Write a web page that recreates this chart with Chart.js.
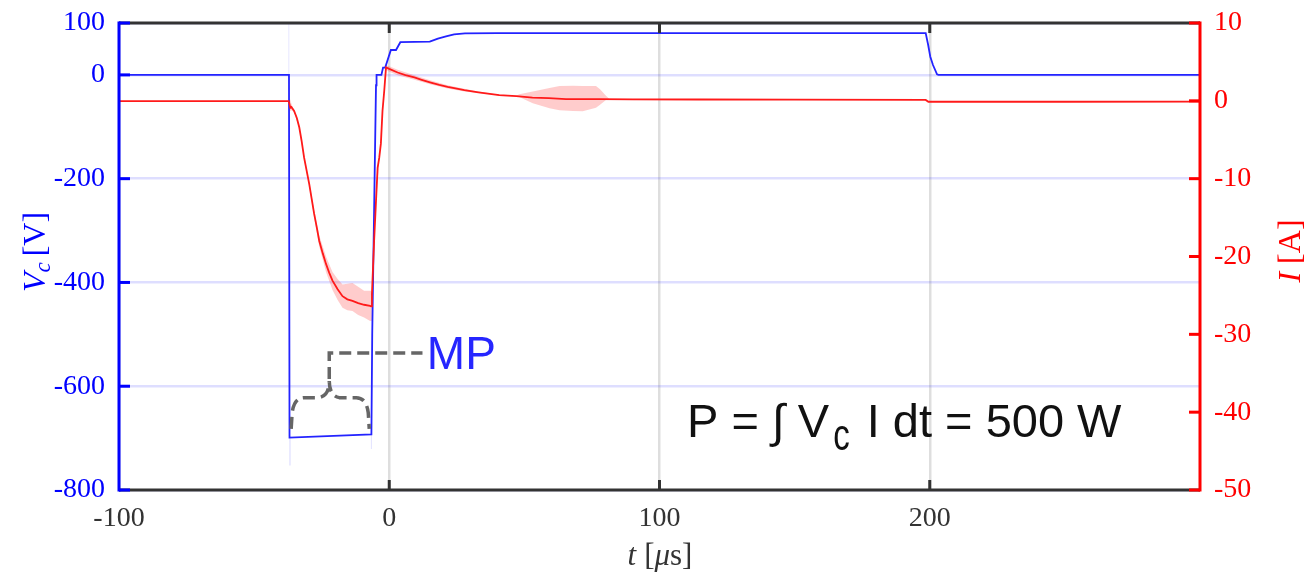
<!DOCTYPE html>
<html>
<head>
<meta charset="utf-8">
<script src="https://cdn.jsdelivr.net/npm/chart.js@4.4.1/dist/chart.umd.min.js"></script>
<style>
  html, body { margin: 0; padding: 0; background: #ffffff; }
  canvas { display: block; }
</style>
</head>
<body>
<canvas id="c" width="1310" height="575"></canvas>
<script>
// ---- axis ticks ----
const tTicks = [-100, 0, 100, 200];                 // t [µs]
const vTicks = [-800, -600, -400, -200, 0, 100];    // V_c [V]
const iTicks = [-50, -40, -30, -20, -10, 0, 10];    // I [A]

// ---- capacitor voltage V_c [V] ----
const voltT = [-100, -37.1, -36.9, -6.6, -6.3, -4.9, -4.7, -2.9, -2.3, -1.5, 0.6, 2.5, 4.1, 15, 18, 21, 24, 28, 40, 198.5, 199.4, 200.2, 201.2, 202.7, 203.2, 300];
const voltV = [0, 0, -699, -693, -500, -20, 0, 0, 14, 14, 48, 48, 63, 64, 70, 74, 78, 80, 80.5, 80.5, 58, 35, 19, 1, 0, 0];

// spread of V_c around the switching edges
const vBandT  = [-100, -37.3, -37.29, -37.0, -36.99, -36.98, -36.97, -36.5, -36.49, -6.8, -6.79, -6.45, -6.44, 300];
const vBandHi = [0, 0, 100, 100, 0, -699, -699, -699, -699, -693, -693, -693, -693, 0];
const vBandLo = [0, 0, 0, 0, 0, -699, -753, -753, -699, -693, -721, -721, -693, 0];

// ---- current I [A] ----
const currT = [-100, -37.2, -36.6, -36.2, -35.2, -34.2, -33.3, -32.4, -31.5, -30.5, -29.6, -28.7, -27.8, -26.8, -25.9, -24.6, -23.4, -22.2, -21.0, -19.1, -17.3, -15.5, -13.6, -11.5, -9.3, -7.1, -6.7, -6.4, -5.6, -4.9, -4.3, -3.7, -3.1, -2.5, -1.85, -1.2, 0, 3.1, 6, 9.3, 12, 15.4, 18.5, 21.6, 24.5, 27.8, 33, 40.7, 47, 53, 59, 65.4, 72, 77.8, 90, 114.8, 150, 198.5, 199.5, 250, 300];
const currI = [-0.05, -0.05, -0.9, -0.8, -1.3, -2.2, -3.4, -5.2, -7.3, -9.1, -10.7, -12.6, -14.5, -16.3, -18.0, -19.6, -20.95, -22.1, -23.1, -24.2, -25.1, -25.5, -25.7, -26.0, -26.2, -26.35, -26.4, -24.8, -18.0, -12.85, -8.6, -7.3, -5.5, -1.3, 1.3, 4.3, 4.1, 3.64, 3.3, 3.0, 2.7, 2.35, 2.05, 1.8, 1.6, 1.37, 1.1, 0.73, 0.6, 0.42, 0.35, 0.22, 0.22, 0.22, 0.2, 0.17, 0.15, 0.12, -0.12, -0.12, -0.1];

// spread of I (upper / lower envelope)
const iBandT  = [-100, -37.2, -36.8, -36.0, -35.2, -33.3, -31.5, -29.6, -27.8, -25.9, -23.4, -21.0, -19.1, -17.3, -15.5, -13.6, -11.5, -9.3, -7.1, -6.7, -6.4, -5.6, -4.9, -3.7, -2.5, -1.85, -1.2, 0, 3.1, 9.3, 15.4, 21.6, 27.8, 33, 40.7, 47, 48.1, 53.1, 59.3, 63, 68, 71.6, 76.5, 78, 80.2, 81.5, 90, 198.5, 199.5, 300];
const iBandHi = [-0.05, -0.05, 0.3, -0.6, -1.1, -3.2, -7.0, -10.4, -14.0, -17.3, -20.0, -22.0, -22.9, -23.6, -23.5, -23.4, -23.9, -24.4, -24.4, -24.4, -24.6, -17.8, -12.6, -7.1, -1.1, 1.5, 4.6, 4.45, 4.0, 3.3, 2.6, 2.0, 1.55, 1.2, 0.78, 0.65, 0.85, 1.2, 1.65, 1.9, 1.95, 1.9, 1.9, 1.5, 0.65, 0.22, 0.2, 0.12, -0.12, -0.1];
const iBandLo = [-0.05, -0.05, -1.3, -1.2, -1.5, -3.6, -7.6, -11.0, -15.0, -18.7, -22.0, -24.3, -25.6, -26.6, -26.9, -27.0, -27.5, -27.85, -28.3, -28.3, -25.0, -18.2, -13.1, -7.5, -1.5, 1.1, 4.0, 3.75, 3.3, 2.7, 2.1, 1.6, 1.2, 1.0, 0.68, 0.55, 0.5, -0.3, -0.95, -1.2, -1.3, -1.35, -0.9, -0.5, 0.1, 0.22, 0.2, 0.12, -0.12, -0.1];

// ---- styling ----
const SERIF = "'Liberation Serif', 'DejaVu Serif', serif";
const SANS = "'Liberation Sans', Arial, sans-serif";
const BLUE = '#0000ff';
const RED = '#ff0000';
const DARK = '#333333';

const pts = (xs, ys) => xs.map((x, k) => ({ x, y: ys[k] }));
const fixedTicks = list => scale => { scale.ticks = list.map(v => ({ value: v })); };
const noEdgePadding = scale => {
  scale.paddingTop = 0; scale.paddingBottom = 0;
  scale.paddingLeft = 0; scale.paddingRight = 0;
};

// text made of runs with their own font / offset / horizontal squeeze
function richText(ctx, parts, x, y, angle) {
  ctx.save();
  ctx.translate(x, y);
  ctx.rotate(angle || 0);
  ctx.textAlign = 'left';
  ctx.textBaseline = 'alphabetic';
  let w = 0;
  parts.forEach(p => {
    ctx.font = p.font;
    p.w = ctx.measureText(p.t).width * (p.sx || 1) + (p.gap || 0);
    w += p.w;
  });
  let cx = -w / 2;
  parts.forEach(p => {
    ctx.font = p.font;
    ctx.fillStyle = p.color;
    ctx.save();
    ctx.translate(cx, p.dy || 0);
    if (p.sx) ctx.scale(p.sx, 1);
    ctx.fillText(p.t, 0, 0);
    ctx.restore();
    cx += p.w;
  });
  ctx.restore();
}

function richTextLeft(ctx, parts, x, y) {
  ctx.save();
  ctx.textAlign = 'left';
  ctx.textBaseline = 'alphabetic';
  let cx = x;
  parts.forEach(p => {
    ctx.font = p.font;
    ctx.fillStyle = p.color;
    ctx.save();
    ctx.translate(cx, y + (p.dy || 0));
    if (p.sx) ctx.scale(p.sx, 1);
    ctx.fillText(p.t, 0, 0);
    ctx.restore();
    cx += ctx.measureText(p.t).width * (p.sx || 1) + (p.gap || 0);
  });
  ctx.restore();
}

// frame, inward tick marks, axis titles and annotations
const decorations = {
  id: 'decorations',
  afterDatasetsDraw(chart) {
    const { ctx, chartArea: a, scales } = chart;
    const xs = scales.x, yv = scales.yV, yi = scales.yI;
    ctx.save();
    ctx.lineCap = 'butt';

    // top & bottom border
    ctx.strokeStyle = DARK;
    ctx.lineWidth = 3;
    ctx.beginPath();
    ctx.moveTo(a.left, a.top); ctx.lineTo(a.right, a.top);
    ctx.moveTo(a.left, a.bottom); ctx.lineTo(a.right, a.bottom);
    ctx.stroke();

    // time ticks (bottom and top, pointing inward)
    tTicks.forEach(t => {
      if (t <= xs.min) return;
      const x = xs.getPixelForValue(t);
      ctx.beginPath();
      ctx.moveTo(x, a.bottom); ctx.lineTo(x, a.bottom - 10);
      ctx.moveTo(x, a.top); ctx.lineTo(x, a.top + 10);
      ctx.stroke();
    });

    // left (voltage) axis
    ctx.strokeStyle = BLUE;
    ctx.lineWidth = 3;
    ctx.beginPath();
    ctx.moveTo(a.left, a.top - 1.5); ctx.lineTo(a.left, a.bottom + 1.5);
    ctx.stroke();
    vTicks.forEach(v => {
      const y = yv.getPixelForValue(v);
      ctx.beginPath();
      ctx.moveTo(a.left, y); ctx.lineTo(a.left + 11, y);
      ctx.stroke();
    });

    // right (current) axis
    ctx.strokeStyle = RED;
    ctx.beginPath();
    ctx.moveTo(a.right, a.top - 1.5); ctx.lineTo(a.right, a.bottom + 1.5);
    ctx.stroke();
    iTicks.forEach(v => {
      const y = yi.getPixelForValue(v);
      ctx.beginPath();
      ctx.moveTo(a.right, y); ctx.lineTo(a.right - 11, y);
      ctx.stroke();
    });

    // axis titles
    const tf = 32;
    richText(ctx, [
      { t: 'V', font: `italic ${tf}px ${SERIF}`, color: BLUE },
      { t: 'c', font: `italic ${Math.round(tf * 0.72)}px ${SERIF}`, color: BLUE, dy: 5, gap: 6 },
      { t: '[V]', font: `${tf}px ${SERIF}`, color: BLUE }
    ], 45, 252, -Math.PI / 2);

    richText(ctx, [
      { t: 'I', font: `italic ${tf}px ${SERIF}`, color: RED, gap: 8 },
      { t: '[A]', font: `${tf}px ${SERIF}`, color: RED }
    ], 1300, 251, -Math.PI / 2);

    richText(ctx, [
      { t: 't', font: `italic ${tf - 1}px ${SERIF}`, color: DARK, gap: 8 },
      { t: '[', font: `${tf - 1}px ${SERIF}`, color: DARK },
      { t: 'μ', font: `italic ${tf - 1}px ${SERIF}`, color: DARK },
      { t: 's]', font: `${tf - 1}px ${SERIF}`, color: DARK }
    ], 660, 565, 0);

    // MP bracket under the main pulse
    const px = t => xs.getPixelForValue(t);
    const py = v => yv.getPixelForValue(v);
    const tL = -36.3, tR = -7.4, tM = -22.2;
    const xL = px(tL), xR = px(tR), xM = px(tM);
    const yEnd = py(-682), yFlat = py(-622), yTip = py(-590), yLead = py(-536);
    ctx.strokeStyle = '#666666';
    ctx.lineWidth = 3.5;
    ctx.setLineDash([12, 6]);
    ctx.beginPath();
    ctx.moveTo(xL, yEnd);
    ctx.lineTo(xL + 1, yEnd - 16);
    ctx.quadraticCurveTo(xL + 3, yFlat, xL + 13, yFlat);
    ctx.lineTo(xM - 10, yFlat);
    ctx.quadraticCurveTo(xM, yFlat - 2, xM, yTip);
    ctx.quadraticCurveTo(xM, yFlat - 2, xM + 10, yFlat);
    ctx.lineTo(xR - 13, yFlat);
    ctx.quadraticCurveTo(xR - 3, yFlat, xR - 1, yEnd - 16);
    ctx.lineTo(xR, yEnd);
    ctx.stroke();
    ctx.beginPath();
    ctx.moveTo(xM, yTip - 2);
    ctx.lineTo(xM, yLead);
    ctx.lineTo(px(12.3), yLead);
    ctx.stroke();
    ctx.setLineDash([]);

    ctx.fillStyle = '#2626ff';
    ctx.font = `46px ${SANS}`;
    ctx.textAlign = 'left';
    ctx.textBaseline = 'alphabetic';
    ctx.fillText('MP', px(13.9), py(-567));

    // power annotation
    const ff = 47;
    richTextLeft(ctx, [
      { t: 'P = ∫ V', font: `${ff}px ${SANS}`, color: '#111111', gap: 4 },
      { t: 'c', font: `${ff - 3}px ${SANS}`, color: '#111111', dy: 13, sx: 0.75, gap: 4 },
      { t: ' I dt = 500 W', font: `${ff}px ${SANS}`, color: '#111111' }
    ], 687, 437);

    ctx.restore();
  }
};

const chart = new Chart(document.getElementById('c'), {
  type: 'line',
  data: {
    datasets: [
      { label: 'I', data: pts(currT, currI), yAxisID: 'yI', borderColor: '#ff1a1a', borderWidth: 1.8, order: 0 },
      { label: 'V_c', data: pts(voltT, voltV), yAxisID: 'yV', borderColor: '#2323ff', borderWidth: 1.8, order: 1 },
      { label: 'I upper', data: pts(iBandT, iBandHi), yAxisID: 'yI', borderColor: 'rgba(0,0,0,0)', borderWidth: 0, fill: false, order: 2 },
      { label: 'I lower', data: pts(iBandT, iBandLo), yAxisID: 'yI', borderColor: 'rgba(0,0,0,0)', borderWidth: 0, fill: '-1', backgroundColor: 'rgba(255,0,0,0.2)', order: 2 },
      { label: 'V upper', data: pts(vBandT, vBandHi), yAxisID: 'yV', borderColor: 'rgba(0,0,0,0)', borderWidth: 0, fill: false, order: 3 },
      { label: 'V lower', data: pts(vBandT, vBandLo), yAxisID: 'yV', borderColor: 'rgba(0,0,0,0)', borderWidth: 0, fill: '-1', backgroundColor: 'rgba(0,0,255,0.12)', order: 3 }
    ]
  },
  options: {
    responsive: false,
    animation: false,
    devicePixelRatio: 1,
    events: [],
    layout: { padding: { top: 23, left: 0, right: 0, bottom: 0 } },
    elements: { point: { radius: 0 }, line: { tension: 0 } },
    plugins: { legend: { display: false }, tooltip: { enabled: false }, title: { display: false } },
    scales: {
      x: {
        type: 'linear', position: 'bottom', min: -100, max: 300,
        afterBuildTicks: fixedTicks(tTicks),
        afterFit: s => { s.height = 85; noEdgePadding(s); },
        grid: { color: 'rgba(0,0,0,0.13)', lineWidth: 2.5, drawTicks: false },
        border: { display: false },
        ticks: { color: DARK, font: { family: SERIF, size: 28 }, padding: 12, maxRotation: 0, autoSkip: false }
      },
      yV: {
        type: 'linear', position: 'left', min: -800, max: 100,
        afterBuildTicks: fixedTicks(vTicks),
        afterFit: s => { s.width = 119; noEdgePadding(s); },
        grid: { color: 'rgba(0,0,255,0.13)', lineWidth: 2.5, drawTicks: false },
        border: { display: false },
        ticks: { color: BLUE, font: { family: SERIF, size: 28 }, padding: 14, autoSkip: false }
      },
      yI: {
        type: 'linear', position: 'right', min: -50, max: 10,
        afterBuildTicks: fixedTicks(iTicks),
        afterFit: s => { s.width = 110; noEdgePadding(s); },
        grid: { display: false, drawTicks: false },
        border: { display: false },
        ticks: { color: RED, font: { family: SERIF, size: 28 }, padding: 14, autoSkip: false }
      }
    }
  },
  plugins: [decorations]
});
</script>
</body>
</html>
